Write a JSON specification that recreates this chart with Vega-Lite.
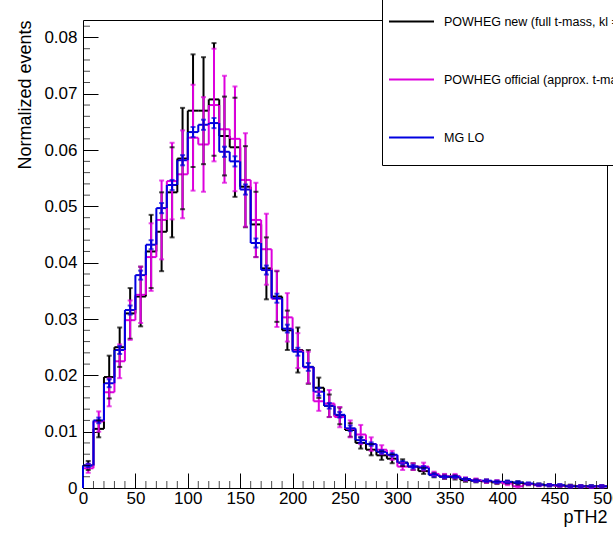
{
  "$schema": "https://vega.github.io/schema/vega-lite/v6.json",
  "width": 524,
  "height": 468,
  "autosize": {"type": "none"},
  "padding": {"left": 83, "top": 20, "right": 6, "bottom": 46},
  "background": "white",
  "config": {"view": {"stroke": "black", "strokeWidth": 1}, "font": "Liberation Sans"},
  "layer": [
    {
      "data": {"values": [
        {"s":"A","c":5,"v":0.0040,"e":0.0008},{"s":"A","c":15,"v":0.0105,"e":0.0015},{"s":"A","c":25,"v":0.0197,"e":0.0038},{"s":"A","c":35,"v":0.0250,"e":0.0035},{"s":"A","c":45,"v":0.0310,"e":0.0045},
        {"s":"A","c":55,"v":0.0340,"e":0.0053},{"s":"A","c":65,"v":0.0420,"e":0.0065},{"s":"A","c":75,"v":0.0455,"e":0.0070},{"s":"A","c":85,"v":0.0525,"e":0.0080},{"s":"A","c":95,"v":0.0585,"e":0.0090},
        {"s":"A","c":105,"v":0.0670,"e":0.0100},{"s":"A","c":115,"v":0.0670,"e":0.0095},{"s":"A","c":125,"v":0.0690,"e":0.0100},{"s":"A","c":135,"v":0.0625,"e":0.0070},{"s":"A","c":145,"v":0.0605,"e":0.0088},
        {"s":"A","c":155,"v":0.0535,"e":0.0072},{"s":"A","c":165,"v":0.0468,"e":0.0058},{"s":"A","c":175,"v":0.0390,"e":0.0055},{"s":"A","c":185,"v":0.0340,"e":0.0045},{"s":"A","c":195,"v":0.0280,"e":0.0035},
        {"s":"A","c":205,"v":0.0245,"e":0.0040},{"s":"A","c":215,"v":0.0215,"e":0.0030},{"s":"A","c":225,"v":0.0178,"e":0.0018},{"s":"A","c":235,"v":0.0146,"e":0.0020},{"s":"A","c":245,"v":0.0128,"e":0.0015},
        {"s":"A","c":255,"v":0.0103,"e":0.0012},{"s":"A","c":265,"v":0.0080,"e":0.0010},{"s":"A","c":275,"v":0.0068,"e":0.0010},{"s":"A","c":285,"v":0.0058,"e":0.0008},{"s":"A","c":295,"v":0.0052,"e":0.0008},
        {"s":"A","c":305,"v":0.0045,"e":0.0006},{"s":"A","c":315,"v":0.0038,"e":0.0006},{"s":"A","c":325,"v":0.0030,"e":0.0005},{"s":"A","c":335,"v":0.0023,"e":0.0004},{"s":"A","c":345,"v":0.0020,"e":0.0004},
        {"s":"A","c":355,"v":0.0019,"e":0.0004},{"s":"A","c":365,"v":0.0014,"e":0.0003},{"s":"A","c":375,"v":0.0013,"e":0.0003},{"s":"A","c":385,"v":0.0012,"e":0.0003},{"s":"A","c":395,"v":0.0010,"e":0.0003},
        {"s":"A","c":405,"v":0.0010,"e":0.0003},{"s":"A","c":415,"v":0.0009,"e":0.0003},{"s":"A","c":425,"v":0.0007,"e":0.0002},{"s":"A","c":435,"v":0.0006,"e":0.0002},{"s":"A","c":445,"v":0.0005,"e":0.0002},
        {"s":"A","c":455,"v":0.0004,"e":0.0002},{"s":"A","c":465,"v":0.0004,"e":0.0002},{"s":"A","c":475,"v":0.0003,"e":0.0002},{"s":"A","c":485,"v":0.0003,"e":0.0002},{"s":"A","c":495,"v":0.0003,"e":0.0002},
        {"s":"B","c":5,"v":0.0035,"e":0.0008},{"s":"B","c":15,"v":0.0118,"e":0.0018},{"s":"B","c":25,"v":0.0170,"e":0.0025},{"s":"B","c":35,"v":0.0225,"e":0.0030},{"s":"B","c":45,"v":0.0298,"e":0.0035},
        {"s":"B","c":55,"v":0.0343,"e":0.0050},{"s":"B","c":65,"v":0.0410,"e":0.0060},{"s":"B","c":75,"v":0.0476,"e":0.0070},{"s":"B","c":85,"v":0.0545,"e":0.0068},{"s":"B","c":95,"v":0.0557,"e":0.0078},
        {"s":"B","c":105,"v":0.0622,"e":0.0094},{"s":"B","c":115,"v":0.0610,"e":0.0084},{"s":"B","c":125,"v":0.0680,"e":0.0100},{"s":"B","c":135,"v":0.0637,"e":0.0095},{"s":"B","c":145,"v":0.0620,"e":0.0093},
        {"s":"B","c":155,"v":0.0547,"e":0.0083},{"s":"B","c":165,"v":0.0476,"e":0.0066},{"s":"B","c":175,"v":0.0424,"e":0.0063},{"s":"B","c":185,"v":0.0336,"e":0.0050},{"s":"B","c":195,"v":0.0303,"e":0.0043},
        {"s":"B","c":205,"v":0.0244,"e":0.0031},{"s":"B","c":215,"v":0.0214,"e":0.0028},{"s":"B","c":225,"v":0.0154,"e":0.0017},{"s":"B","c":235,"v":0.0150,"e":0.0024},{"s":"B","c":245,"v":0.0126,"e":0.0018},
        {"s":"B","c":255,"v":0.0105,"e":0.0015},{"s":"B","c":265,"v":0.0095,"e":0.0017},{"s":"B","c":275,"v":0.0078,"e":0.0012},{"s":"B","c":285,"v":0.0068,"e":0.0008},{"s":"B","c":295,"v":0.0058,"e":0.0008},
        {"s":"B","c":305,"v":0.0038,"e":0.0006},{"s":"B","c":315,"v":0.0038,"e":0.0006},{"s":"B","c":325,"v":0.0038,"e":0.0007},{"s":"B","c":335,"v":0.0025,"e":0.0004},{"s":"B","c":345,"v":0.0021,"e":0.0004},
        {"s":"B","c":355,"v":0.0021,"e":0.0004},{"s":"B","c":365,"v":0.0016,"e":0.0003},{"s":"B","c":375,"v":0.0014,"e":0.0003},{"s":"B","c":385,"v":0.0012,"e":0.0003},{"s":"B","c":395,"v":0.0011,"e":0.0003},
        {"s":"B","c":405,"v":0.0008,"e":0.0003},{"s":"B","c":415,"v":0.0003,"e":0.0002},{"s":"B","c":425,"v":0.0007,"e":0.0002},{"s":"B","c":435,"v":0.0005,"e":0.0002},{"s":"B","c":445,"v":0.0005,"e":0.0002},
        {"s":"B","c":455,"v":0.0004,"e":0.0002},{"s":"B","c":465,"v":0.0003,"e":0.0002},{"s":"B","c":475,"v":0.0003,"e":0.0002},{"s":"B","c":485,"v":0.0002,"e":0.0002},{"s":"B","c":495,"v":0.0003,"e":0.0002},
        {"s":"C","c":5,"v":0.0040,"e":0.0003},{"s":"C","c":15,"v":0.0120,"e":0.0005},{"s":"C","c":25,"v":0.0186,"e":0.0007},{"s":"C","c":35,"v":0.0245,"e":0.0007},{"s":"C","c":45,"v":0.0316,"e":0.0008},
        {"s":"C","c":55,"v":0.0378,"e":0.0008},{"s":"C","c":65,"v":0.0432,"e":0.0008},{"s":"C","c":75,"v":0.0497,"e":0.0009},{"s":"C","c":85,"v":0.0538,"e":0.0009},{"s":"C","c":95,"v":0.0582,"e":0.0009},
        {"s":"C","c":105,"v":0.0632,"e":0.0009},{"s":"C","c":115,"v":0.0645,"e":0.0009},{"s":"C","c":125,"v":0.0648,"e":0.0009},{"s":"C","c":135,"v":0.0597,"e":0.0009},{"s":"C","c":145,"v":0.0580,"e":0.0009},
        {"s":"C","c":155,"v":0.0530,"e":0.0009},{"s":"C","c":165,"v":0.0435,"e":0.0008},{"s":"C","c":175,"v":0.0387,"e":0.0008},{"s":"C","c":185,"v":0.0337,"e":0.0008},{"s":"C","c":195,"v":0.0283,"e":0.0007},
        {"s":"C","c":205,"v":0.0242,"e":0.0007},{"s":"C","c":215,"v":0.0215,"e":0.0007},{"s":"C","c":225,"v":0.0171,"e":0.0007},{"s":"C","c":235,"v":0.0146,"e":0.0005},{"s":"C","c":245,"v":0.0130,"e":0.0005},
        {"s":"C","c":255,"v":0.0106,"e":0.0005},{"s":"C","c":265,"v":0.0085,"e":0.0005},{"s":"C","c":275,"v":0.0078,"e":0.0003},{"s":"C","c":285,"v":0.0064,"e":0.0003},{"s":"C","c":295,"v":0.0059,"e":0.0003},
        {"s":"C","c":305,"v":0.0045,"e":0.0003},{"s":"C","c":315,"v":0.0038,"e":0.0003},{"s":"C","c":325,"v":0.0036,"e":0.0003},{"s":"C","c":335,"v":0.0023,"e":0.0003},{"s":"C","c":345,"v":0.0020,"e":0.0002},
        {"s":"C","c":355,"v":0.0020,"e":0.0002},{"s":"C","c":365,"v":0.0016,"e":0.0002},{"s":"C","c":375,"v":0.0013,"e":0.0002},{"s":"C","c":385,"v":0.0013,"e":0.0002},{"s":"C","c":395,"v":0.0011,"e":0.0002},
        {"s":"C","c":405,"v":0.0011,"e":0.0002},{"s":"C","c":415,"v":0.0010,"e":0.0002},{"s":"C","c":425,"v":0.0008,"e":0.0002},{"s":"C","c":435,"v":0.0006,"e":0.0002},{"s":"C","c":445,"v":0.0005,"e":0.0002},
        {"s":"C","c":455,"v":0.0005,"e":0.0002},{"s":"C","c":465,"v":0.0003,"e":0.0002},{"s":"C","c":475,"v":0.0003,"e":0.0002},{"s":"C","c":485,"v":0.0003,"e":0.0002},{"s":"C","c":495,"v":0.0003,"e":0.0002}
      ]},
      "transform": [
        {"calculate": "datum.c - 5", "as": "lo"},
        {"calculate": "datum.c + 5", "as": "hi"},
        {"calculate": "datum.v - datum.e", "as": "ylo"},
        {"calculate": "datum.v + datum.e", "as": "yhi"},
        {"window": [{"op": "lag", "field": "v", "as": "pv"}], "groupby": ["s"], "sort": [{"field": "c"}]},
        {"calculate": "datum.pv == null ? 0 : datum.pv", "as": "prev"}
      ],
      "encoding": {
        "color": {
          "field": "s", "type": "nominal",
          "scale": {"domain": ["A", "B", "C"], "range": ["#000000", "#dd00dd", "#0000e0"]},
          "legend": {
            "orient": "none", "legendX": 299, "legendY": -28, "direction": "vertical",
            "title": " ", "titleOrient": "bottom", "titleFontSize": 5, "titlePadding": 10,
            "symbolType": "stroke", "symbolSize": 2025, "symbolStrokeWidth": 2, "symbolOpacity": 1,
            "labelFont": "Liberation Sans", "labelFontSize": 12.5, "labelColor": "black", "labelLimit": 600,
            "labelOffset": 9, "rowPadding": 28, "padding": 6,
            "strokeColor": "black", "fillColor": "white",
            "labelExpr": "datum.label == 'A' ? 'POWHEG new (full t-mass, kl = 1)' : datum.label == 'B' ? 'POWHEG official (approx. t-mass)' : 'MG LO'"
          }
        }
      },
      "layer": [
        {
          "mark": {"type": "rule", "strokeWidth": 2},
          "encoding": {
            "x": {"field": "lo", "type": "quantitative", "scale": {"domain": [0, 500], "nice": false, "zero": false},
              "axis": {"orient": "bottom", "values": [0, 50, 100, 150, 200, 250, 300, 350, 400, 450, 500], "tickSize": -15, "tickColor": "black", "domain": false, "grid": false,
                "labelFont": "Liberation Sans", "labelFontSize": 17, "labelColor": "black", "labelPadding": 17, "labelFlush": false, "labelOverlap": false, "labelBound": false,
                "title": "pTH2", "titleFont": "Liberation Sans", "titleFontSize": 18, "titleFontWeight": "normal", "titleColor": "black", "titleAnchor": "end", "titlePadding": 2}},
            "x2": {"field": "hi"},
            "y": {"field": "v", "type": "quantitative", "scale": {"domain": [0, 0.0831], "nice": false, "zero": false},
              "axis": {"orient": "left", "values": [0, 0.01, 0.02, 0.03, 0.04, 0.05, 0.06, 0.07, 0.08], "tickSize": -15, "tickColor": "black", "domain": false, "grid": false,
                "format": ".2f", "labelExpr": "datum.value == 0 ? '0' : datum.label",
                "labelFont": "Liberation Sans", "labelFontSize": 17, "labelColor": "black", "labelPadding": 21, "labelFlush": false, "labelOverlap": false, "labelBound": false,
                "title": "Normalized events", "titleFont": "Liberation Sans", "titleFontSize": 18, "titleFontWeight": "normal", "titleColor": "black", "titleAnchor": "end", "titlePadding": 9}}
          }
        },
        {
          "mark": {"type": "rule", "strokeWidth": 2},
          "encoding": {
            "x": {"field": "lo", "type": "quantitative"},
            "y": {"field": "prev", "type": "quantitative"},
            "y2": {"field": "v"}
          }
        },
        {
          "mark": {"type": "rule", "strokeWidth": 2},
          "encoding": {
            "x": {"field": "c", "type": "quantitative"},
            "y": {"field": "ylo", "type": "quantitative"},
            "y2": {"field": "yhi"}
          }
        },
        {
          "mark": {"type": "tick", "orient": "horizontal", "size": 5, "thickness": 2},
          "encoding": {
            "x": {"field": "c", "type": "quantitative"},
            "y": {"field": "yhi", "type": "quantitative"}
          }
        },
        {
          "mark": {"type": "tick", "orient": "horizontal", "size": 5, "thickness": 2},
          "encoding": {
            "x": {"field": "c", "type": "quantitative"},
            "y": {"field": "ylo", "type": "quantitative"}
          }
        }
      ]
    },
    {
      "data": {"values": [{"t":10},{"t":20},{"t":30},{"t":40},{"t":60},{"t":70},{"t":80},{"t":90},{"t":110},{"t":120},{"t":130},{"t":140},{"t":160},{"t":170},{"t":180},{"t":190},{"t":210},{"t":220},{"t":230},{"t":240},{"t":260},{"t":270},{"t":280},{"t":290},{"t":310},{"t":320},{"t":330},{"t":340},{"t":360},{"t":370},{"t":380},{"t":390},{"t":410},{"t":420},{"t":430},{"t":440},{"t":460},{"t":470},{"t":480},{"t":490}]},
      "mark": {"type": "tick", "orient": "vertical", "size": 14, "thickness": 1, "color": "black", "clip": true},
      "encoding": {
        "x": {"field": "t", "type": "quantitative"},
        "y": {"datum": 0, "type": "quantitative"}
      }
    },
    {
      "data": {"values": [{"t":0.002},{"t":0.004},{"t":0.006},{"t":0.008},{"t":0.012},{"t":0.014},{"t":0.016},{"t":0.018},{"t":0.022},{"t":0.024},{"t":0.026},{"t":0.028},{"t":0.032},{"t":0.034},{"t":0.036},{"t":0.038},{"t":0.042},{"t":0.044},{"t":0.046},{"t":0.048},{"t":0.052},{"t":0.054},{"t":0.056},{"t":0.058},{"t":0.062},{"t":0.064},{"t":0.066},{"t":0.068},{"t":0.072},{"t":0.074},{"t":0.076},{"t":0.078},{"t":0.082}]},
      "mark": {"type": "tick", "orient": "horizontal", "size": 14, "thickness": 1, "color": "black", "clip": true},
      "encoding": {
        "y": {"field": "t", "type": "quantitative"},
        "x": {"datum": 0, "type": "quantitative"}
      }
    }
  ]
}
